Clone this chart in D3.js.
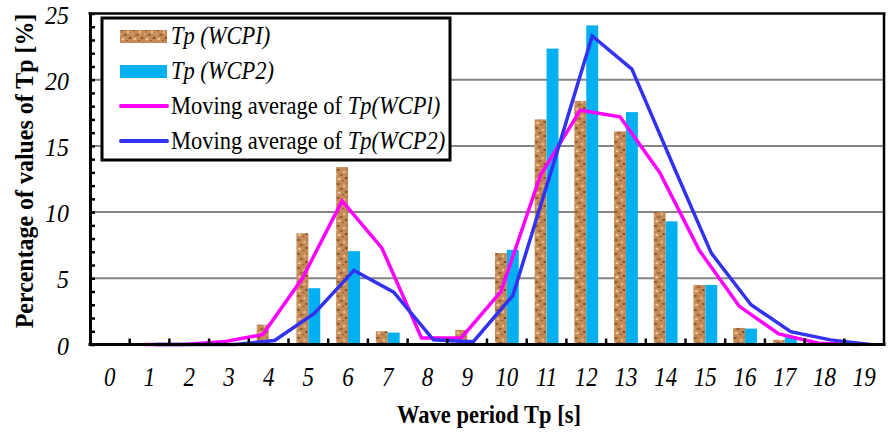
<!DOCTYPE html>
<html>
<head>
<meta charset="utf-8">
<script src="https://cdn.jsdelivr.net/npm/d3@7"></script>
<style>
    body { margin: 0; background: #fff; }
    svg { display: block; }
</style>
</head>
<body>
<div id="chart"></div>
<script>
// Data
const categories = ["0","1","2","3","4","5","6","7","8","9","10","11","12","13","14","15","16","17","18","19"]
const seriesNames = ["WCP1", "WCP2"]
const tpWCP1 = [0, 0, 0, 0, 1.5, 8.4, 13.4, 1.0, 0, 1.1, 6.9, 17.0, 18.4, 16.1, 10.0, 4.5, 1.25, 0.35, 0, 0]
const tpWCP2 = [0, 0, 0, 0, 0.1, 4.25, 7.05, 0.9, 0, 0, 7.15, 22.35, 24.1, 17.55, 9.3, 4.5, 1.2, 0.55, 0, 0]
const maWCP1 = [null, 0, 0, 0.2, 0.75, 5.0, 10.85, 7.3, 0.5, 0.5, 4.0, 12.8, 17.7, 17.2, 13.0, 7.1, 2.9, 0.8, 0.1, 0]
const maWCP2 = [null, 0, 0, 0, 0.3, 2.35, 5.6, 3.95, 0.35, 0.2, 3.7, 13.4, 23.3, 20.8, 13.8, 6.9, 3.0, 0.97, 0.35, 0]
const yTicks = [0, 5, 10, 15, 20, 25]
const yMinorTicks = [0,1,2,3,4,5,6,7,8,9,10,11,12,13,14,15,16,17,18,19,20,21,22,23,24,25]

// Dimensions
const width = 890
const height = 432
const plot = { left: 90, right: 884, top: 13.5, bottom: 344.5 }

const svg = d3.select("#chart")
    .append("svg")
    .attr("width", width)
    .attr("height", height)

// Cork texture for the WCP1 bars
const defs = svg.append("defs")
const cork = defs.append("pattern")
    .attr("id", "cork")
    .attr("patternUnits", "userSpaceOnUse")
    .attr("width", 12)
    .attr("height", 14)
cork.append("rect").attr("width", 12).attr("height", 14).attr("fill", "#c58a55")
const specks = [
    [2, 2, 1.6, 1.0, "#82501f"], [8, 4, 1.2, 1.6, "#e3bd8f"], [5, 7, 1.8, 1.1, "#94602f"],
    [10, 10, 1.3, 1.0, "#74431c"], [3, 11, 1.5, 1.3, "#e8c79e"], [7, 12.5, 1.0, 0.8, "#8f5a2c"],
    [0.5, 6, 0.9, 1.2, "#dcb080"], [11, 1, 1.0, 0.8, "#a56d3b"]
]
specks.forEach(s => {
    cork.append("ellipse")
        .attr("cx", s[0]).attr("cy", s[1])
        .attr("rx", s[2]).attr("ry", s[3])
        .attr("fill", s[4])
})

// Scales
const x0 = d3.scaleBand()
    .domain(categories)
    .range([plot.left, plot.right])
    .paddingInner(0.4)
    .paddingOuter(0.2)

const x1 = d3.scaleBand()
    .domain(seriesNames)
    .range([0, x0.bandwidth()])

const y = d3.scaleLinear()
    .domain([0, 25])
    .range([plot.bottom, plot.top])

const barColor = { WCP1: "url(#cork)", WCP2: "#00b0f0" }

// Gridlines
svg.append("g")
    .selectAll("line")
    .data(yTicks.filter(d => d > 0 && d < 25))
    .join("line")
    .attr("x1", plot.left)
    .attr("x2", plot.right)
    .attr("y1", d => y(d))
    .attr("y2", d => y(d))
    .attr("stroke", "#858585")
    .attr("stroke-width", 2)

// Bars
const rows = categories.map((c, i) => ({ cat: c, WCP1: tpWCP1[i], WCP2: tpWCP2[i] }))

svg.append("g")
    .selectAll("g")
    .data(rows)
    .join("g")
    .attr("transform", d => `translate(${x0(d.cat)},0)`)
    .selectAll("rect")
    .data(d => seriesNames.map(s => ({ key: s, value: d[s] })))
    .join("rect")
    .attr("x", d => x1(d.key))
    .attr("width", x1.bandwidth())
    .attr("y", d => y(d.value))
    .attr("height", d => y(0) - y(d.value))
    .attr("fill", d => barColor[d.key])

// Moving average lines, each at the centre of its own bar
function drawLine(values, key, color) {
    const pts = categories.map((c, i) => ({ cat: c, v: values[i] })).filter(d => d.v !== null)
    const line = d3.line()
        .x(d => x0(d.cat) + x1(key) + x1.bandwidth() / 2)
        .y(d => y(d.v))
    svg.append("path")
        .datum(pts)
        .attr("d", line)
        .attr("fill", "none")
        .attr("stroke", color)
        .attr("stroke-width", 3.5)
        .attr("stroke-linejoin", "miter")
}
drawLine(maWCP1, "WCP1", "#ff00ff")
drawLine(maWCP2, "WCP2", "#3232f0")

// Axes
const yAxis = d3.axisLeft(y)
    .tickValues(yMinorTicks)
    .tickSizeInner(-5)
    .tickSizeOuter(0)
    .tickFormat("")
const yAxisGroup = svg.append("g")
    .attr("transform", `translate(${plot.left},0)`)
    .call(yAxis)
yAxisGroup.select(".domain").attr("stroke", "#000").attr("stroke-width", 3)
yAxisGroup.selectAll(".tick line").attr("stroke", "#000").attr("stroke-width", 2.5)

const xBoundaries = categories.slice(1)
svg.append("g")
    .selectAll("line")
    .data(xBoundaries)
    .join("line")
    .attr("x1", d => x0(d) - x0.step() * x0.paddingInner() / 2)
    .attr("x2", d => x0(d) - x0.step() * x0.paddingInner() / 2)
    .attr("y1", plot.bottom)
    .attr("y2", plot.bottom - 6)
    .attr("stroke", "#000")
    .attr("stroke-width", 2.5)

// Plot frame
svg.append("line")
    .attr("x1", plot.left - 1.5).attr("x2", plot.right + 1.5)
    .attr("y1", plot.bottom).attr("y2", plot.bottom)
    .attr("stroke", "#000").attr("stroke-width", 3)
svg.append("line")
    .attr("x1", plot.left - 1.5).attr("x2", plot.right + 1.5)
    .attr("y1", plot.top).attr("y2", plot.top)
    .attr("stroke", "#000").attr("stroke-width", 2.5)
svg.append("line")
    .attr("x1", plot.right).attr("x2", plot.right)
    .attr("y1", plot.top).attr("y2", plot.bottom)
    .attr("stroke", "#000").attr("stroke-width", 2.5)

// Tick labels
const serif = "'Liberation Serif', 'Times New Roman', serif"

svg.append("g")
    .selectAll("text")
    .data(yTicks)
    .join("text")
    .attr("transform", d => `translate(69,${y(d) + 10}) scale(0.92,1)`)
    .attr("text-anchor", "end")
    .attr("font-family", serif)
    .attr("font-style", "italic")
    .attr("font-size", 26)
    .text(d => d)

svg.append("g")
    .selectAll("text")
    .data(categories)
    .join("text")
    .attr("transform", d => `translate(${x0(d) + x0.bandwidth() / 2},386) scale(0.85,1)`)
    .attr("text-anchor", "middle")
    .attr("font-family", serif)
    .attr("font-style", "italic")
    .attr("font-size", 27)
    .text(d => d)

// Axis titles
svg.append("text")
    .attr("transform", "translate(489,423) scale(0.9,1)")
    .attr("text-anchor", "middle")
    .attr("font-family", serif)
    .attr("font-weight", "bold")
    .attr("font-size", 25)
    .text("Wave period Tp [s]")

svg.append("text")
    .attr("transform", "translate(33,171) rotate(-90) scale(0.92,1)")
    .attr("text-anchor", "middle")
    .attr("font-family", serif)
    .attr("font-weight", "bold")
    .attr("font-size", 26)
    .text("Percentage of values of Tp [%]")

// Legend
const legend = svg.append("g")
legend.append("rect")
    .attr("x", 102).attr("y", 18)
    .attr("width", 348).attr("height", 142)
    .attr("fill", "#fff")
    .attr("stroke", "#000")
    .attr("stroke-width", 3)

const legendItems = [
    { type: "bar", fill: "url(#cork)", plain: "", italic: "Tp (WCPI)", y: 44 },
    { type: "bar", fill: "#00b0f0", plain: "", italic: "Tp (WCP2)", y: 79 },
    { type: "line", fill: "#ff00ff", plain: "Moving average of ", italic: "Tp(WCPl)", y: 114 },
    { type: "line", fill: "#3232f0", plain: "Moving average of ", italic: "Tp(WCP2)", y: 149 }
]

legendItems.forEach(d => {
    if (d.type === "bar") {
        legend.append("rect")
            .attr("x", 120).attr("y", d.y - 14)
            .attr("width", 47).attr("height", 13)
            .attr("fill", d.fill)
    } else {
        legend.append("line")
            .attr("x1", 121).attr("x2", 167)
            .attr("y1", d.y - 8).attr("y2", d.y - 8)
            .attr("stroke", d.fill)
            .attr("stroke-width", 4)
            .attr("stroke-linecap", "round")
    }
    const t = legend.append("text")
        .attr("transform", `translate(171,${d.y}) scale(0.9,1)`)
        .attr("font-family", serif)
        .attr("font-size", 25)
    if (d.plain) t.append("tspan").text(d.plain)
    t.append("tspan").attr("font-style", "italic").text(d.italic)
})
</script>
</body>
</html>
